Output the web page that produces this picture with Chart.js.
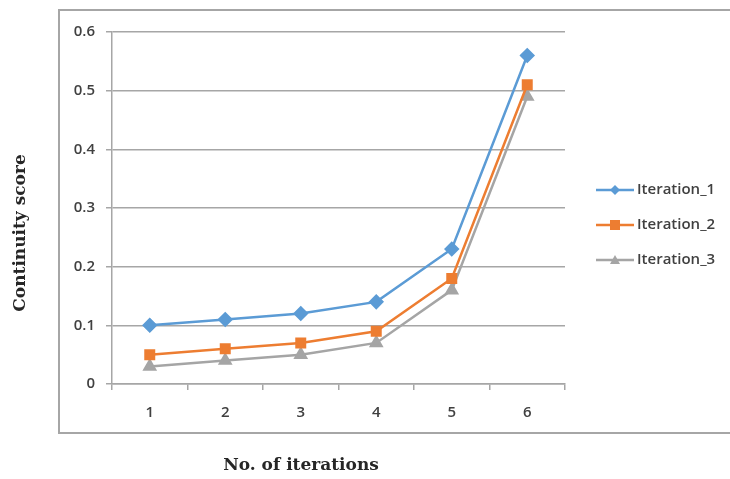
<!DOCTYPE html>
<html>
<head>
<meta charset="utf-8">
<script src="https://cdn.jsdelivr.net/npm/chart.js@4.4.0/dist/chart.umd.min.js"></script>
<style>
  body { margin: 0; background: #fff; }
  #wrap { width: 730px; height: 479px; position: relative; }
</style>
</head>
<body>
<div id="wrap"><canvas id="myChart"></canvas></div>
<script>
var labels = ['1', '2', '3', '4', '5', '6']
var iteration_1 = [0.10, 0.11, 0.12, 0.14, 0.23, 0.56]
var iteration_2 = [0.05, 0.06, 0.07, 0.09, 0.18, 0.51]
var iteration_3 = [0.03, 0.04, 0.05, 0.07, 0.16, 0.49]
var yTicks = [0, 0.1, 0.2, 0.3, 0.4, 0.5, 0.6]

var gridColor = '#a6a6a6'
var tickFont = { family: 'Open Sans', size: 15, weight: '600' }

// outer frame (runs off the right edge), axis titles and the legend
var extras = {
  id: 'extras',
  afterDraw: function (chart) {
    var ctx = chart.ctx
    ctx.save()
    ctx.strokeStyle = gridColor
    ctx.lineWidth = 2
    ctx.strokeRect(59, 10, 700, 423)

    ctx.fillStyle = '#262626'
    ctx.font = 'bold 17px "DejaVu Serif"'
    ctx.textAlign = 'center'
    ctx.textBaseline = 'middle'
    ctx.fillText('No. of iterations', 301, 466)
    ctx.translate(21, 233)
    ctx.rotate(-Math.PI / 2)
    ctx.fillText('Continuity score', 0, 0)
    ctx.restore()

    ctx.save()
    chart.data.datasets.forEach(function (ds, i) {
      var y = 190 + i * 35
      ctx.strokeStyle = ds.borderColor
      ctx.lineWidth = 2.5
      ctx.beginPath()
      ctx.moveTo(596, y)
      ctx.lineTo(634, y)
      ctx.stroke()
      drawMarker(ctx, ds.pointStyle, 615, y, 5, ds.borderColor)
      ctx.fillStyle = '#404040'
      ctx.font = '600 15px "Open Sans"'
      ctx.textAlign = 'left'
      ctx.textBaseline = 'middle'
      ctx.fillText(ds.label, 637, y)
    })
    ctx.restore()
  }
}

function drawMarker(ctx, style, x, y, r, color) {
  ctx.fillStyle = color
  ctx.beginPath()
  if (style === 'rectRot') {
    ctx.moveTo(x, y - r); ctx.lineTo(x + r, y); ctx.lineTo(x, y + r); ctx.lineTo(x - r, y)
  } else if (style === 'rect') {
    ctx.rect(x - r, y - r, r * 2, r * 2)
  } else {
    ctx.moveTo(x, y - r); ctx.lineTo(x + r, y + r * 0.8); ctx.lineTo(x - r, y + r * 0.8)
  }
  ctx.closePath()
  ctx.fill()
}

var ctx = document.getElementById('myChart').getContext('2d');
var myChart = new Chart(ctx, {
  type: 'line',
  data: {
    labels: labels,
    datasets: [{
      label: 'Iteration_1',
      data: iteration_1,
      borderColor: '#5B9BD5',
      backgroundColor: '#5B9BD5',
      pointStyle: 'rectRot',
      pointRadius: 6,
      borderWidth: 2.5,
      tension: 0
    }, {
      label: 'Iteration_2',
      data: iteration_2,
      borderColor: '#ED7D31',
      backgroundColor: '#ED7D31',
      pointStyle: 'rect',
      pointRadius: 6,
      borderWidth: 2.5,
      tension: 0
    }, {
      label: 'Iteration_3',
      data: iteration_3,
      borderColor: '#A5A5A5',
      backgroundColor: '#A5A5A5',
      pointStyle: 'triangle',
      pointRadius: 6,
      borderWidth: 2.5,
      tension: 0
    }]
  },
  options: {
    responsive: true,
    maintainAspectRatio: false,
    animation: false,
    layout: {
      padding: { top: 32, right: 165, left: 0, bottom: 0 }
    },
    plugins: {
      legend: { display: false },
      tooltip: { enabled: false }
    },
    scales: {
      x: {
        offset: true,
        afterFit: function (s) { s.height = 95 },
        grid: {
          offset: true,
          drawOnChartArea: false,
          tickLength: 6,
          color: gridColor,
          lineWidth: 1.5
        },
        border: { color: gridColor, width: 1.5 },
        ticks: { font: tickFont, color: '#404040', padding: 14 }
      },
      y: {
        min: 0,
        max: 0.6,
        afterFit: function (s) { s.width = 112 },
        afterBuildTicks: function (s) {
          s.ticks = yTicks.map(function (v) { return { value: v } })
        },
        grid: { color: gridColor, lineWidth: 1.5, tickLength: 6 },
        border: { color: gridColor, width: 1.5 },
        ticks: {
          font: tickFont,
          color: '#404040',
          padding: 11,
          callback: function (v) { return v === 0 ? '0' : v.toFixed(1) }
        }
      }
    }
  },
  plugins: [extras]
})
</script>
</body>
</html>
